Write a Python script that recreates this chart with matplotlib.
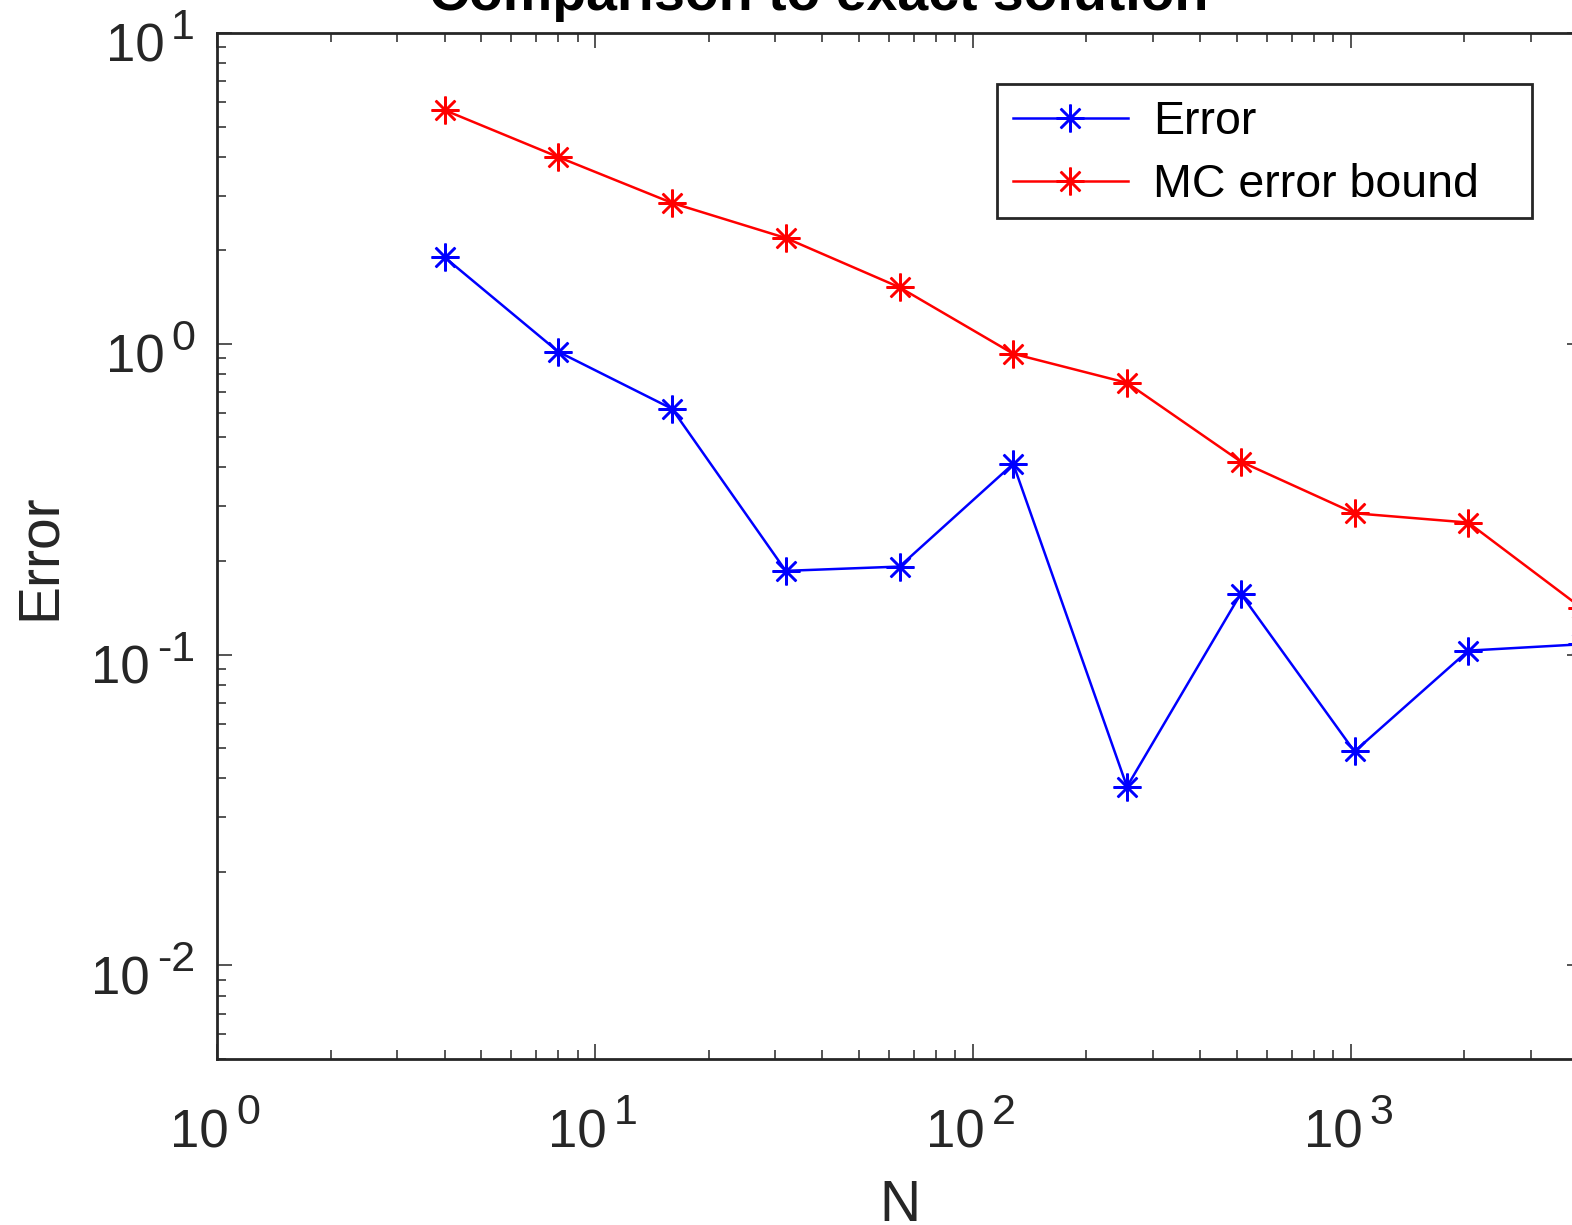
import numpy as np
import matplotlib
matplotlib.use("Agg")
import matplotlib.pyplot as plt
from matplotlib.ticker import LogLocator, NullFormatter
from matplotlib.patches import Rectangle

plt.rcParams['font.family'] = ['Liberation Sans', 'DejaVu Sans']

# sample sizes and errors
N = [4, 8, 16, 32, 64, 128, 256, 512, 1024, 2048, 4096]
err = [1.90, 0.943, 0.618, 0.186, 0.192, 0.411, 0.0376, 0.157, 0.0488, 0.103, 0.108]
bound = [5.65, 3.99, 2.84, 2.19, 1.52, 0.929, 0.749, 0.418, 0.285, 0.266, 0.141]

# decades that carry a tick label
xdecades = [0, 1, 2, 3]
ydecades = [-2, -1, 0, 1]

axcol = (0.15, 0.15, 0.15)
px = 72 / 100  # one pixel in points

fig = plt.figure(figsize=(15.72, 12.25), dpi=100)
ax = fig.add_axes([217/1572, 166/1225, 1365/1572, 1026/1225])

ast = (8, 2, 0)  # matlab style asterisk
ax.plot(N, err, color='blue', lw=1.8, marker=ast, ms=20, mew=1.8, label='Error')
ax.plot(N, bound, color='red', lw=1.8, marker=ast, ms=20, mew=1.8, label='MC error bound')

ax.set_xscale('log')
ax.set_yscale('log')
ax.set_xlim(1, 4096)
ax.set_ylim(0.005, 10)

ax.xaxis.set_major_locator(LogLocator(base=10, numticks=10))
ax.yaxis.set_major_locator(LogLocator(base=10, numticks=10))
ax.xaxis.set_major_formatter(NullFormatter())
ax.yaxis.set_major_formatter(NullFormatter())

ax.tick_params(which='both', direction='in', top=True, right=True, colors=axcol, width=1.1)
ax.tick_params(which='major', length=11)
ax.tick_params(which='minor', length=6.5)
for s in ax.spines.values():
    s.set_color(axcol)
    s.set_linewidth(2)

# matlab like tick labels: big "10" with a large raised exponent
base_fs, sup_fs = 38, 31
renderer = fig.canvas.get_renderer()
for e in xdecades:
    ax.annotate('10', xy=(10.0**e, 0), xycoords=ax.get_xaxis_transform(),
                xytext=(12*px, -89*px), textcoords='offset points', ha='right',
                va='baseline', fontsize=base_fs, color=axcol, annotation_clip=False)
    ax.annotate(str(e), xy=(10.0**e, 0), xycoords=ax.get_xaxis_transform(),
                xytext=(19*px, -65*px), textcoords='offset points', ha='left',
                va='baseline', fontsize=sup_fs, color=axcol, annotation_clip=False)
for e in ydecades:
    sup = ax.annotate(str(e), xy=(0, 10.0**e), xycoords=ax.get_yaxis_transform(),
                      xytext=(-22*px, -6*px), textcoords='offset points', ha='right',
                      va='baseline', fontsize=sup_fs, color=axcol, annotation_clip=False)
    w = sup.get_window_extent(renderer).width
    ax.annotate('10', xy=(0, 10.0**e), xycoords=ax.get_yaxis_transform(),
                xytext=(-(22 + 7 + w)*px, -29*px), textcoords='offset points', ha='right',
                va='baseline', fontsize=base_fs, color=axcol, annotation_clip=False)

ax.set_xlabel('N', fontsize=41, color=axcol, va='baseline')
ax.xaxis.set_label_coords(0.5, -0.158)
ax.set_ylabel('Error', fontsize=41, color=axcol, va='center')
ax.yaxis.set_label_coords(-0.13, 0.49)

fig.text(819/1572, 1 - 10/1225, 'Comparison to exact solution', fontsize=40,
         fontweight='bold', ha='center', va='baseline')

# legend box is wider than its content, as in matlab
ax.add_patch(Rectangle((0.5714, 0.8197), 0.392, 0.1306, transform=ax.transAxes,
                       facecolor='white', edgecolor=axcol, lw=2, zorder=4.9, clip_on=False))
leg = ax.legend(loc='upper left', bbox_to_anchor=(0.5714, 0.9503), borderaxespad=0,
                fontsize=33.5, frameon=False, handlelength=2.47,
                borderpad=0.34, labelspacing=0.42, handletextpad=0.54)

fig.savefig('out.png', dpi=100)
